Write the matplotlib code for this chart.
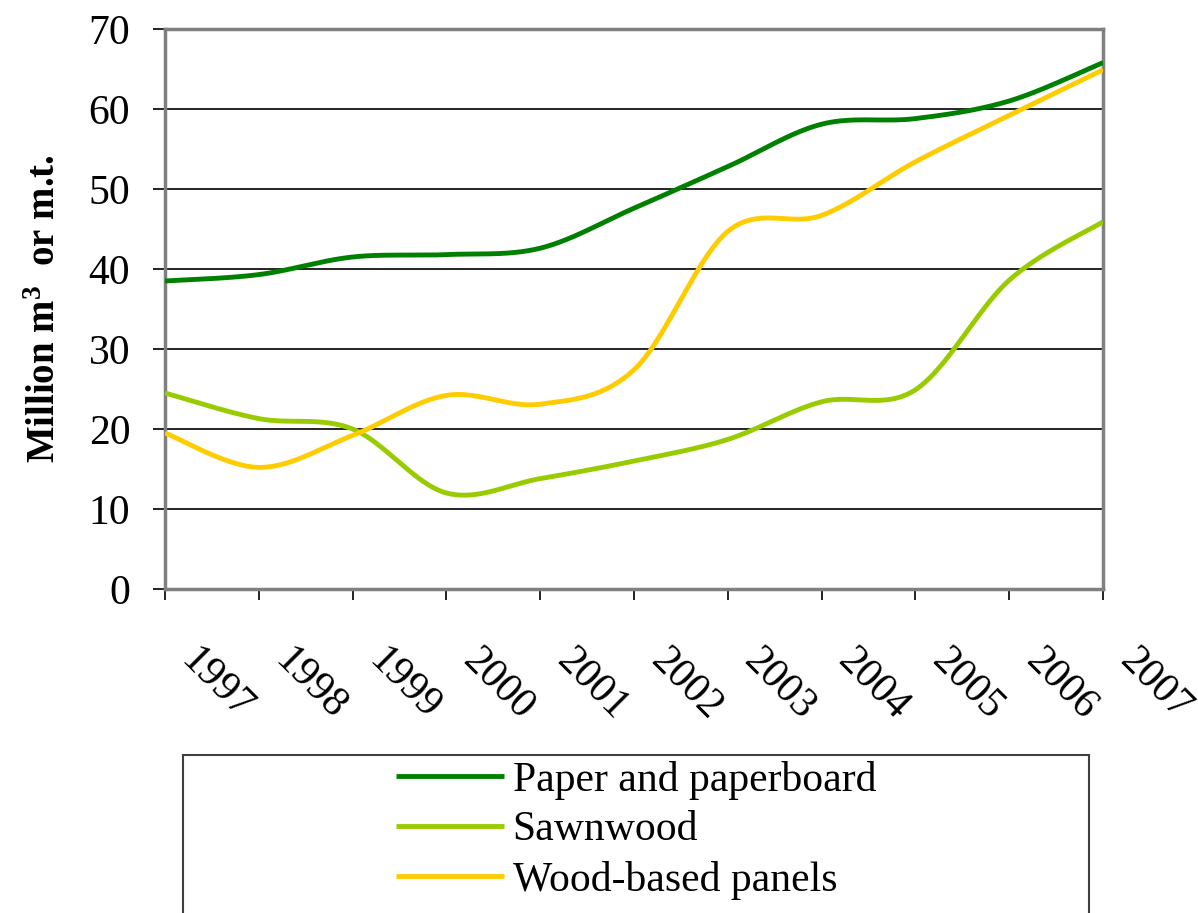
import numpy as np
import matplotlib.pyplot as plt
import matplotlib.transforms as mtransforms
from matplotlib.patches import Rectangle

plt.rcParams['font.family'] = ['Liberation Serif', 'DejaVu Serif']
plt.rcParams['mathtext.fontset'] = 'custom'
plt.rcParams['mathtext.bf'] = 'Liberation Serif:bold'
plt.rcParams['mathtext.default'] = 'bf'

years = [1997, 1998, 1999, 2000, 2001, 2002, 2003, 2004, 2005, 2006, 2007]
paper = [38.5, 39.3, 41.5, 41.8, 42.6, 47.6, 52.8, 58.1, 58.8, 61.0, 65.8]
sawnwood = [24.5, 21.3, 20.0, 12.0, 13.8, 16.0, 18.7, 23.4, 24.9, 38.6, 45.9]
panels = [19.5, 15.2, 19.2, 24.2, 23.1, 27.4, 44.7, 46.7, 53.4, 59.2, 64.9]


def smooth(x, y, n=40):
    # excel-like smoothed line (catmull-rom bezier)
    x = np.asarray(x, float); y = np.asarray(y, float)
    px = np.concatenate([[x[0]], x, [x[-1]]])
    py = np.concatenate([[y[0]], y, [y[-1]]])
    xs, ys = [], []
    t = np.linspace(0, 1, n)
    for i in range(1, len(px) - 2):
        p0, p1, p2, p3 = (np.array([px[j], py[j]]) for j in (i - 1, i, i + 1, i + 2))
        c1 = p1 + (p2 - p0) / 6
        c2 = p2 - (p3 - p1) / 6
        seg = ((1 - t)**3)[:, None] * p1 + (3 * (1 - t)**2 * t)[:, None] * c1 \
            + (3 * (1 - t) * t**2)[:, None] * c2 + (t**3)[:, None] * p2
        xs.append(seg[:, 0]); ys.append(seg[:, 1])
    return np.concatenate(xs), np.concatenate(ys)


fig = plt.figure(figsize=(11.98, 9.13), dpi=100)
ax = fig.add_axes([165 / 1198, 1 - 589 / 913, 938 / 1198, 560 / 913])

series = [(paper, '#008000', 'Paper and paperboard'),
          (sawnwood, '#99CC00', 'Sawnwood'),
          (panels, '#FFCC00', 'Wood-based panels')]
for vals, col, lab in series:
    sx, sy = smooth(years, vals)
    ax.plot(sx, sy, color=col, lw=3.5, label=lab, solid_capstyle='butt', zorder=3)

ax.set_xlim(1997, 2007)
ax.set_ylim(0, 70)
ax.set_yticks(range(0, 71, 10))
ax.set_xticks(years)
ax.set_xticklabels([str(y) for y in years])
ax.yaxis.grid(True, color='black', lw=1.2)
ax.set_axisbelow(True)
for s in ax.spines.values():
    s.set_color('#808080')
    s.set_linewidth(2.5)

ax.tick_params(axis='y', direction='out', length=9, width=1.2, color='black',
               labelsize=30, pad=16)
ax.tick_params(axis='x', direction='out', length=8, width=1.2, color='black',
               labelsize=30, pad=39)
offset = mtransforms.ScaledTranslation(0.22, 0, fig.dpi_scale_trans)
for lab in ax.get_xticklabels():
    lab.set_rotation(-45)
    lab.set_ha('left')
    lab.set_va('center')
    lab.set_rotation_mode('anchor')
    lab.set_transform(lab.get_transform() + offset)

ax.set_ylabel(r'Million m$^3$  or m.t.', fontsize=28, fontweight='bold')
ax.yaxis.set_label_coords(-0.108, 0.5)

# legend box
fig.patches.append(Rectangle((183 / 1198, -0.05), (1089 - 183) / 1198, 0.05 + 1 - 755 / 913,
                             transform=fig.transFigure, fill=False, edgecolor='#404040',
                             lw=1.5))
fig.legend(loc='center', bbox_to_anchor=(636 / 1198, 1 - 830 / 913), frameon=False,
           fontsize=30, handlelength=2.6, handletextpad=0.2, labelspacing=0.27,
           borderpad=0)

plt.savefig('out.png', dpi=100)
